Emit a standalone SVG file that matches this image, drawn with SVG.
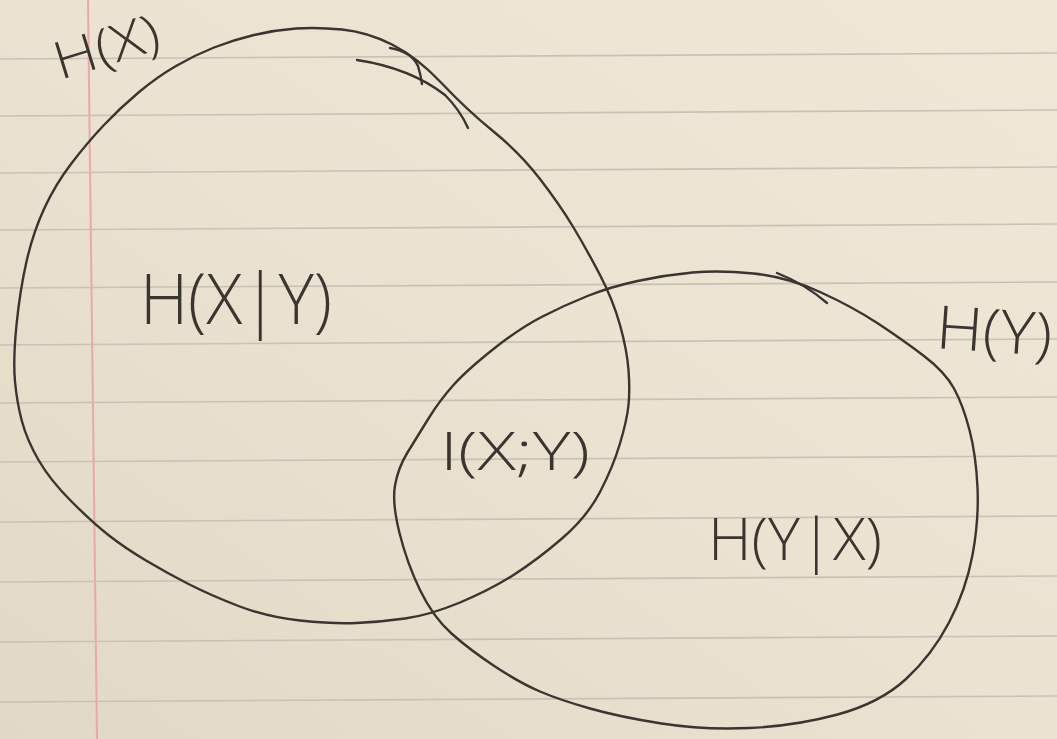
<svg xmlns="http://www.w3.org/2000/svg" width="1057" height="739" viewBox="0 0 1057 739">
  <defs>
    <linearGradient id="paper" x1="1" y1="0" x2="0" y2="1">
      <stop offset="0" stop-color="#f0e7d7"/>
      <stop offset="0.5" stop-color="#ebe2d1"/>
      <stop offset="1" stop-color="#e2d8c6"/>
    </linearGradient>
  </defs>
  <style>
    .rule { stroke: #c8c2b6; stroke-width: 1.6; fill: none; }
    .margin { stroke: #e8a9a9; stroke-width: 2; fill: none; }
    .pen { stroke: #3a3530; stroke-width: 2.4; fill: none; stroke-linecap: round; stroke-linejoin: round; }
    .lbl { font-family: "Open Sans", "Liberation Sans", sans-serif; font-weight: 300; fill: #3a3530; }
  </style>

  <!-- paper -->
  <rect x="0" y="0" width="1057" height="739" fill="url(#paper)"/>
  <g id="ruling">
    <line class="rule" x1="0" y1="59" x2="1057" y2="53"/>
    <line class="rule" x1="0" y1="116" x2="1057" y2="110"/>
    <line class="rule" x1="0" y1="173" x2="1057" y2="167"/>
    <line class="rule" x1="0" y1="230" x2="1057" y2="224"/>
    <line class="rule" x1="0" y1="288" x2="1057" y2="282"/>
    <line class="rule" x1="0" y1="345" x2="1057" y2="339"/>
    <line class="rule" x1="0" y1="403" x2="1057" y2="397"/>
    <line class="rule" x1="0" y1="462" x2="1057" y2="456"/>
    <line class="rule" x1="0" y1="522" x2="1057" y2="516"/>
    <line class="rule" x1="0" y1="582" x2="1057" y2="576"/>
    <line class="rule" x1="0" y1="642" x2="1057" y2="636"/>
    <line class="rule" x1="0" y1="702" x2="1057" y2="696"/>
    <line class="margin" x1="88" y1="0" x2="97" y2="739"/>
  </g>

  <g id="circle-hx">
    <path class="pen" d="M15,381.5 Q13,360 16.5,325 Q20,290 26.5,261.5 Q33,233 44,209 Q55,185 71,164 Q87,143 103.5,125.5 Q120,108 138.5,92.5 Q157,77 176,66 Q195,55 214,47.5 Q233,40 254,35 Q275,30 296,28.5 Q317,27 342,29.5 Q367,32 392,44.5 Q417,57 442,83.5 Q467,110 493.5,131.5 Q520,153 540,179 Q560,205 573.5,227.5 Q587,250 600,275 Q613,300 620,325 Q627,350 628.5,370 Q630,390 628.5,405 Q627,420 620,443.5 Q613,467 600,492 Q587,517 562,538.5 Q537,560 513.5,575 Q490,590 460,602.5 Q430,615 405,618.5 Q380,622 356.5,623 Q333,624 300,620.5 Q267,617 238.5,606 Q210,595 188.5,584 Q167,573 146,560.5 Q125,548 109,535.5 Q93,523 71.5,501.5 Q50,480 38.5,460 Q27,440 22,421.5 Q17,403 15,381.5 Z"/>
    <path class="pen" stroke-width="1.8" d="M357,60 Q410,68 445,95 Q460,110 468,128"/>
    <path class="pen" stroke-width="1.6" d="M390,48 Q412,52 418,66 Q421,76 422,84"/>
  </g>

  <g id="circle-hy">
    <path class="pen" d="M428.5,418.5 Q440,400 453.5,385 Q467,370 493.5,349 Q520,328 542.5,316.5 Q565,305 587.5,296 Q610,287 637.5,281 Q665,275 692.5,272.5 Q720,270 753.5,273.5 Q787,277 820,292 Q853,307 878,323.5 Q903,340 924,356 Q945,372 954,388.5 Q963,405 969.5,430 Q976,455 977.5,487.5 Q979,520 972.5,555 Q966,590 949,622.5 Q932,655 906,679 Q880,703 837.5,714.5 Q795,726 749,728 Q703,730 661.5,723.5 Q620,717 590,708.5 Q560,700 540,691.5 Q520,683 495,666.5 Q470,650 451.5,633.5 Q433,617 420,590 Q407,563 399.5,533 Q392,503 395,485.5 Q398,468 407.5,452.5 Q417,437 428.5,418.5 Z"/>
    <path class="pen" stroke-width="1.6" d="M777,273 Q805,284 827,303"/>
  </g>

  <g id="label-hx">
    <text class="lbl" x="60" y="80" font-size="52" textLength="108" lengthAdjust="spacingAndGlyphs" transform="rotate(-17 60 80)">H(X)</text>
  </g>
  <g id="label-hx-given-y">
    <text class="lbl" x="140" y="324" font-size="70" textLength="192" lengthAdjust="spacingAndGlyphs">H(X|Y)</text>
  </g>
  <g id="label-ixy">
    <text class="lbl" x="440" y="470" font-size="54" textLength="150" lengthAdjust="spacingAndGlyphs">I(X;Y)</text>
  </g>
  <g id="label-hy-given-x">
    <text class="lbl" x="708" y="560" font-size="58" textLength="174" lengthAdjust="spacingAndGlyphs">H(Y|X)</text>
  </g>
  <g id="label-hy">
    <text class="lbl" x="935" y="348" font-size="60" textLength="116" lengthAdjust="spacingAndGlyphs" transform="rotate(4 935 348)">H(Y)</text>
  </g>
</svg>
